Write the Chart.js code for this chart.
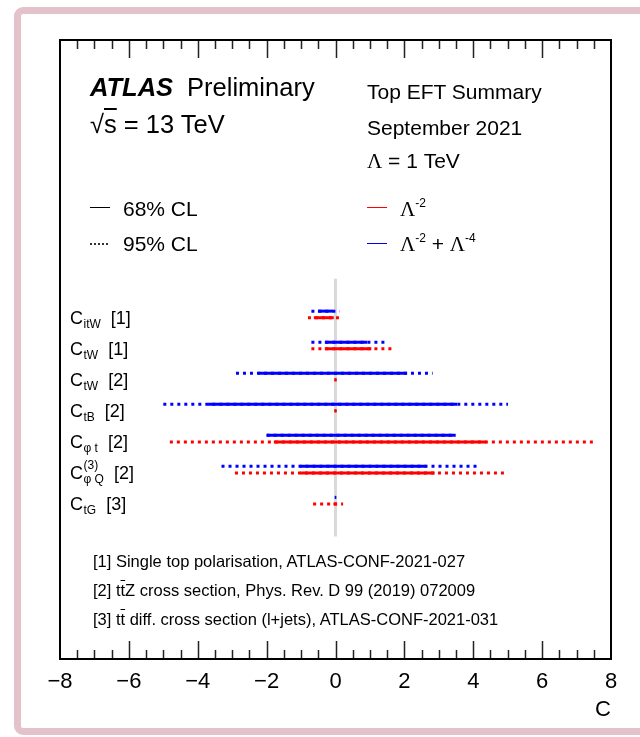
<!DOCTYPE html>
<html>
<head>
<meta charset="utf-8">
<script src="https://cdn.jsdelivr.net/npm/chart.js@4.4.1/dist/chart.umd.min.js"></script>
<style>
  html, body { margin: 0; padding: 0; background: #fff; }
  #wrap { position: relative; width: 640px; height: 737px; overflow: hidden;
          font-family: "Liberation Sans", Arial, Helvetica, sans-serif; color: #000; }
  #border { position: absolute; left: 14px; top: 7px; width: 720px; height: 728px;
            box-sizing: border-box; border: 7px solid #e3c2cb; border-radius: 9px; }
  canvas { position: absolute; left: 0; top: 0; }
  .t { position: absolute; white-space: nowrap; line-height: 1; }
  .lam { font-family: "Liberation Serif", "Times New Roman", serif; }
  .sup { font-size: 12px; position: relative; top: -9px; }
  .ol { text-decoration: overline; }
  .sample { position: absolute; height: 0; width: 20px; }
</style>
</head>
<body>
<div id="wrap">
  <div id="border"></div>
  <canvas id="c" width="640" height="737"></canvas>

  <div class="t" style="left:90px;top:75px;font-size:25.5px;"><b><i>ATLAS</i></b><span style="margin-left:14px;">Preliminary</span></div>
  <div class="t" style="left:90px;top:112px;font-size:25.5px;">√<span class="ol">s</span> = 13 TeV</div>

  <div class="t" style="left:367px;top:80.5px;font-size:21px;">Top EFT Summary</div>
  <div class="t" style="left:367px;top:116.5px;font-size:21px;">September 2021</div>
  <div class="t" style="left:367px;top:149.5px;font-size:21px;"><span class="lam">Λ</span> = 1 TeV</div>

  <div class="sample" style="left:90px;top:207px;border-top:1.5px solid #000;"></div>
  <div class="t" style="left:123px;top:197.5px;font-size:21px;">68% CL</div>
  <div class="sample" style="left:90px;top:243px;height:1.5px;background:repeating-linear-gradient(to right,#333 0 2px,transparent 2px 4px);"></div>
  <div class="t" style="left:123px;top:232.5px;font-size:21px;">95% CL</div>

  <div class="sample" style="left:367px;top:207px;border-top:1.5px solid #ff0000;"></div>
  <div class="t" style="left:400px;top:197.5px;font-size:21px;"><span class="lam">Λ</span><span class="sup">-2</span></div>
  <div class="sample" style="left:367px;top:243px;border-top:1.5px solid #0000ff;"></div>
  <div class="t" style="left:400px;top:232.5px;font-size:21px;"><span class="lam">Λ</span><span class="sup">-2</span> + <span class="lam">Λ</span><span class="sup">-4</span></div>

  <div class="t" style="left:93px;top:552.5px;font-size:16.5px;">[1] Single top polarisation, ATLAS-CONF-2021-027</div>
  <div class="t" style="left:93px;top:581.5px;font-size:16.5px;">[2] t<span class="ol">t</span>Z cross section, Phys. Rev. D 99 (2019) 072009</div>
  <div class="t" style="left:93px;top:610.5px;font-size:16.5px;">[3] t<span class="ol">t</span> diff. cross section (l+jets), ATLAS-CONF-2021-031</div>
</div>

<script>
// Wilson coefficients (rows, top to bottom)
const coeffSubs = ['itW', 'tW', 'tW', 'tB', 'φ t', 'φ Q', 'tG'];
const coeffSups = ['', '', '', '', '', '(3)', ''];
const coeffRefs = ['[1]', '[1]', '[2]', '[2]', '[2]', '[2]', '[3]'];

// Λ^-2 (linear) intervals: [low, high]
const lin68 = [[-0.63, -0.05], [-0.31, 1.04], [-0.03, 0.03], [-0.03, 0.03], [-1.79, 4.38], [-1.02, 2.88], [-0.06, 0.04]];
const lin95 = [[-0.80, 0.20], [-0.70, 1.64], [-0.03, 0.03], [-0.03, 0.03], [-4.81, 7.50], [-2.92, 4.89], [-0.65, 0.22]];

// Λ^-2 + Λ^-4 (quadratic) intervals: [low, high]
const quad68 = [[-0.51, -0.07], [-0.31, 0.92], [-2.25, 2.08], [-3.70, 3.53], [-2.00, 3.49], [-1.04, 2.64], [-0.02, 0.02]];
const quad95 = [[-0.70, 0.12], [-0.70, 1.46], [-2.89, 2.82], [-5.00, 5.01], [-2.00, 3.49], [-3.31, 4.14], [-0.02, 0.02]];

// x-axis ticks
const xMin = -8, xMax = 8, xMajorStep = 2, xMinorStep = 0.5;

const RED = '#ff0000', BLUE = '#0000ff';
const PAIR_OFFSET = 0.106;        // vertical split of the two fits within a row
const DASH = [3, 4];

function segments(intervals, color, dashed, offset, order) {
  return intervals.map((iv, i) => ({
    type: 'scatter',
    showLine: true,
    data: [{ x: iv[0], y: i + offset }, { x: iv[1], y: i + offset }],
    borderColor: color,
    borderWidth: 3,
    borderDash: dashed ? DASH : [],
    borderCapStyle: 'butt',
    pointRadius: 0,
    order: order
  }));
}

const datasets = [
  ...segments(lin68, RED, false, PAIR_OFFSET, 1),
  ...segments(quad68, BLUE, false, -PAIR_OFFSET, 1),
  ...segments(lin95, RED, true, PAIR_OFFSET, 2),
  ...segments(quad95, BLUE, true, -PAIR_OFFSET, 2),
  {
    // vertical reference line at C = 0
    type: 'scatter', showLine: true,
    data: [{ x: 0, y: -1.15 }, { x: 0, y: coeffSubs.length - 1 + 1.15 }],
    borderColor: '#d9d9d9', borderWidth: 3, pointRadius: 0, order: 3
  }
];

// Frame with inward ticks on the top and bottom edges
const framePlugin = {
  id: 'frame',
  afterDraw(chart) {
    const { ctx, chartArea: a, scales: { x } } = chart;
    ctx.save();
    ctx.strokeStyle = '#222';
    ctx.lineWidth = 1.5;
    for (let v = xMin + xMinorStep; v < xMax - 1e-9; v += xMinorStep) {
      const px = Math.round(x.getPixelForValue(v)) + 0.5;
      const major = Math.abs(v / xMajorStep - Math.round(v / xMajorStep)) < 1e-9;
      const len = major ? 18 : 9;
      ctx.beginPath();
      ctx.moveTo(px, a.top); ctx.lineTo(px, a.top + len);
      ctx.moveTo(px, a.bottom); ctx.lineTo(px, a.bottom - len);
      ctx.stroke();
    }
    ctx.lineWidth = 2;
    ctx.strokeStyle = '#000';
    ctx.strokeRect(a.left, a.top, a.right - a.left, a.bottom - a.top);
    ctx.restore();
  }
};

// Row labels C_sub^sup [ref]
const rowLabelPlugin = {
  id: 'rowLabels',
  afterDraw(chart) {
    const { ctx, scales: { y } } = chart;
    ctx.save();
    ctx.fillStyle = '#000';
    ctx.textBaseline = 'alphabetic';
    ctx.textAlign = 'left';
    coeffSubs.forEach((sub, i) => {
      const mid = y.getPixelForValue(i) + 3;
      const base = mid + 6.5;
      let px = 70;
      ctx.font = '18px "Liberation Sans", Arial, sans-serif';
      ctx.fillText('C', px, base);
      px += ctx.measureText('C').width + 0.5;
      ctx.font = '12px "Liberation Sans", Arial, sans-serif';
      ctx.fillText(sub, px, mid + 10.5);
      let w = ctx.measureText(sub).width;
      if (coeffSups[i]) {
        ctx.fillText(coeffSups[i], px, mid - 3.5);
        w = Math.max(w, ctx.measureText(coeffSups[i]).width);
      }
      px += w + 10;
      ctx.font = '18px "Liberation Sans", Arial, sans-serif';
      ctx.fillText(coeffRefs[i], px, base);
    });
    ctx.restore();
  }
};

new Chart(document.getElementById('c'), {
  data: { datasets },
  options: {
    responsive: false,
    animation: false,
    events: [],
    devicePixelRatio: 1,
    layout: { padding: { left: 60, right: 29, top: 40, bottom: 14 } },
    plugins: { legend: { display: false }, tooltip: { enabled: false } },
    scales: {
      x: {
        type: 'linear', position: 'bottom', min: xMin, max: xMax,
        grid: { display: false, drawTicks: false },
        border: { display: false },
        ticks: {
          stepSize: xMajorStep, autoSkip: false, padding: 10, color: '#000',
          font: { family: '"Liberation Sans", Arial, sans-serif', size: 22 },
          callback: v => (v < 0 ? '\u2212' + Math.abs(v) : String(v))
        },
        title: {
          display: true, text: 'C', align: 'end', color: '#000',
          font: { family: '"Liberation Sans", Arial, sans-serif', size: 22 },
          padding: 0
        },
        afterFit(s) { s.height = 64; s.paddingLeft = 0; s.paddingRight = 0; }
      },
      y: {
        type: 'linear', display: false, reverse: true, min: -8.84, max: 11.10
      }
    }
  },
  plugins: [framePlugin, rowLabelPlugin]
});
</script>
</body>
</html>
